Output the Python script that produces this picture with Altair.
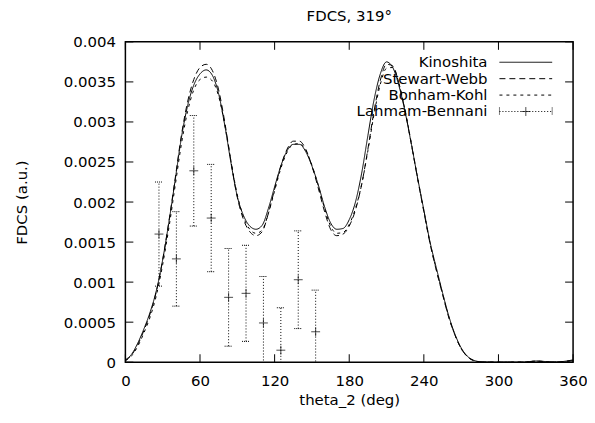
import altair as alt
import pandas as pd

FONT = "DejaVu Sans"

# ---- model curves (theta_2 in deg, FDCS in units of 1e-3 a.u.) ----
theta_grid = list(range(0, 365, 5))

kinoshita = [0.03, 0.10, 0.24, 0.42, 0.63, 0.90, 1.28, 1.75, 2.27, 2.80,
             3.20, 3.46, 3.60, 3.65, 3.58, 3.35, 2.95, 2.48, 2.07, 1.83,
             1.70, 1.66, 1.71, 1.92, 2.19, 2.45, 2.64, 2.72, 2.72, 2.63,
             2.45, 2.22, 1.95, 1.74, 1.66, 1.67, 1.78, 2.00, 2.36, 2.83,
             3.28, 3.60, 3.75, 3.68, 3.45, 3.12, 2.72, 2.30, 1.90, 1.50,
             1.18, 0.87, 0.58, 0.35, 0.18, 0.075, 0.025, 0.006, 0.002, 0.001,
             0.001, 0.001, 0.001, 0.001, 0.001, 0.008, 0.015, 0.012, 0.005, 0.003,
             0.006, 0.015, 0.03]

stewart_webb = [0.02, 0.09, 0.22, 0.40, 0.61, 0.89, 1.28, 1.76, 2.29, 2.83,
                3.25, 3.53, 3.68, 3.72, 3.64, 3.40, 2.99, 2.50, 2.06, 1.78,
                1.63, 1.58, 1.63, 1.86, 2.16, 2.45, 2.66, 2.76, 2.76, 2.66,
                2.45, 2.18, 1.89, 1.66, 1.58, 1.60, 1.70, 1.90, 2.22, 2.66,
                3.14, 3.52, 3.72, 3.70, 3.48, 3.13, 2.72, 2.29, 1.88, 1.48,
                1.15, 0.85, 0.56, 0.34, 0.17, 0.07, 0.02, 0.005, 0.002, 0.001,
                0.001, 0.001, 0.001, 0.001, 0.001, 0.007, 0.013, 0.010, 0.004, 0.002,
                0.005, 0.012, 0.02]

bonham_kohl = [0.02, 0.08, 0.20, 0.37, 0.57, 0.84, 1.22, 1.68, 2.20, 2.72,
               3.13, 3.40, 3.53, 3.56, 3.51, 3.32, 2.96, 2.50, 2.09, 1.81,
               1.66, 1.61, 1.65, 1.86, 2.14, 2.42, 2.62, 2.72, 2.73, 2.65,
               2.46, 2.21, 1.93, 1.70, 1.61, 1.62, 1.72, 1.92, 2.22, 2.64,
               3.10, 3.47, 3.67, 3.68, 3.48, 3.14, 2.73, 2.30, 1.89, 1.49,
               1.16, 0.86, 0.57, 0.34, 0.17, 0.07, 0.02, 0.005, 0.002, 0.001,
               0.001, 0.001, 0.001, 0.001, 0.001, 0.007, 0.013, 0.010, 0.004, 0.002,
               0.005, 0.012, 0.02]

# ---- experiment (Lahmam-Bennani) ----
exp_theta = [27, 41, 55, 69, 83, 97, 111, 125, 139, 153]
exp_fdcs = [0.00160, 0.00129, 0.00239, 0.00180, 0.00081, 0.00086, 0.00049, 0.00015, 0.00103, 0.00038]
exp_err = [0.00065, 0.00059, 0.00069, 0.00067, 0.00061, 0.00060, 0.00058, 0.00053, 0.00061, 0.00052]

series_names = ["Kinoshita", "Stewart-Webb", "Bonham-Kohl", "Lahmam-Bennani"]
dashes = [[1, 0], [6, 4], [3, 4]]

x_ticks = [0, 60, 120, 180, 240, 300, 360]
y_ticks = [0, 0.0005, 0.001, 0.0015, 0.002, 0.0025, 0.003, 0.0035, 0.004]

W, H = 450, 322

rows = []
for name, vals in zip(series_names[:3], [kinoshita, stewart_webb, bonham_kohl]):
    for t, v in zip(theta_grid, vals):
        rows.append({"theta": t, "fdcs": v * 1e-3, "model": name})
curves = pd.DataFrame(rows)
exp = pd.DataFrame({"theta": exp_theta, "fdcs": exp_fdcs, "err": exp_err})

xs = alt.Scale(domain=[0, 360], nice=False, zero=False)
ys = alt.Scale(domain=[0, 0.004], nice=False, zero=False)

xaxis = alt.Axis(values=x_ticks, title="theta_2 (deg)", grid=False, ticks=False, domain=False,
                 labelFont=FONT, labelFontSize=15, titleFont=FONT, titleFontSize=15,
                 titleFontWeight="normal", labelColor="black", titleColor="black",
                 labelPadding=11, titlePadding=5, labelFlush=False)
yaxis = alt.Axis(values=y_ticks, title="FDCS (a.u.)", grid=False, ticks=False, domain=False,
                 format="~g", labelFont=FONT, labelFontSize=15, titleFont=FONT, titleFontSize=15,
                 titleFontWeight="normal", labelColor="black", titleColor="black",
                 labelPadding=10, titleX=-96, titleY=H / 2, titleBaseline="bottom",
                 labelFlush=False)

lines = alt.Chart(curves).mark_line(color="black", strokeWidth=1, clip=True,
                                    interpolate="monotone").encode(
    x=alt.X("theta:Q", scale=xs, axis=xaxis),
    y=alt.Y("fdcs:Q", scale=ys, axis=yaxis),
    strokeDash=alt.StrokeDash("model:N", scale=alt.Scale(domain=series_names[:3], range=dashes),
                              legend=None),
    detail="model:N",
)

base_exp = alt.Chart(exp).transform_calculate(
    lo="datum.fdcs - datum.err", hi="datum.fdcs + datum.err")

bars = base_exp.mark_rule(color="black", strokeWidth=1, strokeDash=[1, 2], clip=True).encode(
    x=alt.X("theta:Q", scale=xs), y=alt.Y("lo:Q", scale=ys), y2="hi:Q")
cap_lo = base_exp.mark_rule(color="black", strokeWidth=1, strokeDash=[1, 1], clip=True,
                            xOffset=-4, x2Offset=4).encode(
    x=alt.X("theta:Q", scale=xs), x2="theta:Q", y=alt.Y("lo:Q", scale=ys))
cap_hi = base_exp.mark_rule(color="black", strokeWidth=1, strokeDash=[1, 1], clip=True,
                            xOffset=-4, x2Offset=4).encode(
    x=alt.X("theta:Q", scale=xs), x2="theta:Q", y=alt.Y("hi:Q", scale=ys))
plus = "M-1,0L1,0M0,-1L0,1"
pts = alt.Chart(exp).mark_point(shape=plus, size=80, color="black", strokeWidth=1,
                                filled=False, clip=True).encode(
    x=alt.X("theta:Q", scale=xs), y=alt.Y("fdcs:Q", scale=ys))

# inward tick marks on all four sides
xt = pd.DataFrame({"t": x_ticks})
yt = pd.DataFrame({"t": y_ticks})
TL = 8
tb = alt.Chart(xt).mark_rule(color="black", strokeWidth=1).encode(
    x=alt.X("t:Q", scale=xs), y=alt.value(H), y2=alt.value(H - TL))
tt = alt.Chart(xt).mark_rule(color="black", strokeWidth=1).encode(
    x=alt.X("t:Q", scale=xs), y=alt.value(0), y2=alt.value(TL))
tlft = alt.Chart(yt).mark_rule(color="black", strokeWidth=1).encode(
    y=alt.Y("t:Q", scale=ys), x=alt.value(0), x2=alt.value(TL))
trgt = alt.Chart(yt).mark_rule(color="black", strokeWidth=1).encode(
    y=alt.Y("t:Q", scale=ys), x=alt.value(W), x2=alt.value(W - TL))

# legend (gnuplot style: label left, sample right)
leg_layers = []
row_y = [20.5, 37, 53.5, 70]
tx, lx1, lx2 = 364, 376, 429
for i, name in enumerate(series_names):
    yy = row_y[i]
    leg_layers.append(alt.Chart(pd.DataFrame({"label": [name]})).mark_text(
        align="right", baseline="middle", font=FONT, fontSize=15, color="black").encode(
        text="label:N", x=alt.value(tx), y=alt.value(yy)))
    if i < 3:
        leg_layers.append(alt.Chart(pd.DataFrame({"label": [name]})).mark_rule(
            color="black", strokeWidth=1, strokeDash=dashes[i]).encode(
            x=alt.value(lx1), x2=alt.value(lx2), y=alt.value(yy)))
    else:
        d = pd.DataFrame({"label": [name]})
        leg_layers.append(alt.Chart(d).mark_rule(color="black", strokeWidth=1,
                                                 strokeDash=[1, 2]).encode(
            x=alt.value(lx1), x2=alt.value(lx2), y=alt.value(yy)))
        for xx in (lx1, lx2):
            leg_layers.append(alt.Chart(d).mark_rule(color="black", strokeWidth=1,
                                                     strokeDash=[1, 1]).encode(
                x=alt.value(xx), y=alt.value(yy - 4), y2=alt.value(yy + 4)))
        leg_layers.append(alt.Chart(d).mark_point(shape=plus, size=80, color="black",
                                                  strokeWidth=1, filled=False).encode(
            x=alt.value((lx1 + lx2) / 2), y=alt.value(yy)))

chart = alt.layer(lines, bars, cap_lo, cap_hi, pts, tb, tt, tlft, trgt, *leg_layers).properties(
    width=W, height=H,
    title=alt.TitleParams("FDCS, 319°", font=FONT, fontSize=15, fontWeight="normal",
                          color="black", anchor="middle", offset=11),
    autosize=alt.AutoSizeParams(type="none"),
    padding={"left": 118, "top": 33, "right": 14, "bottom": 48},
    background="white",
).configure_view(stroke="black", strokeWidth=1.5)

chart.save("out.html", embed_options={"renderer": "svg", "actions": False})
